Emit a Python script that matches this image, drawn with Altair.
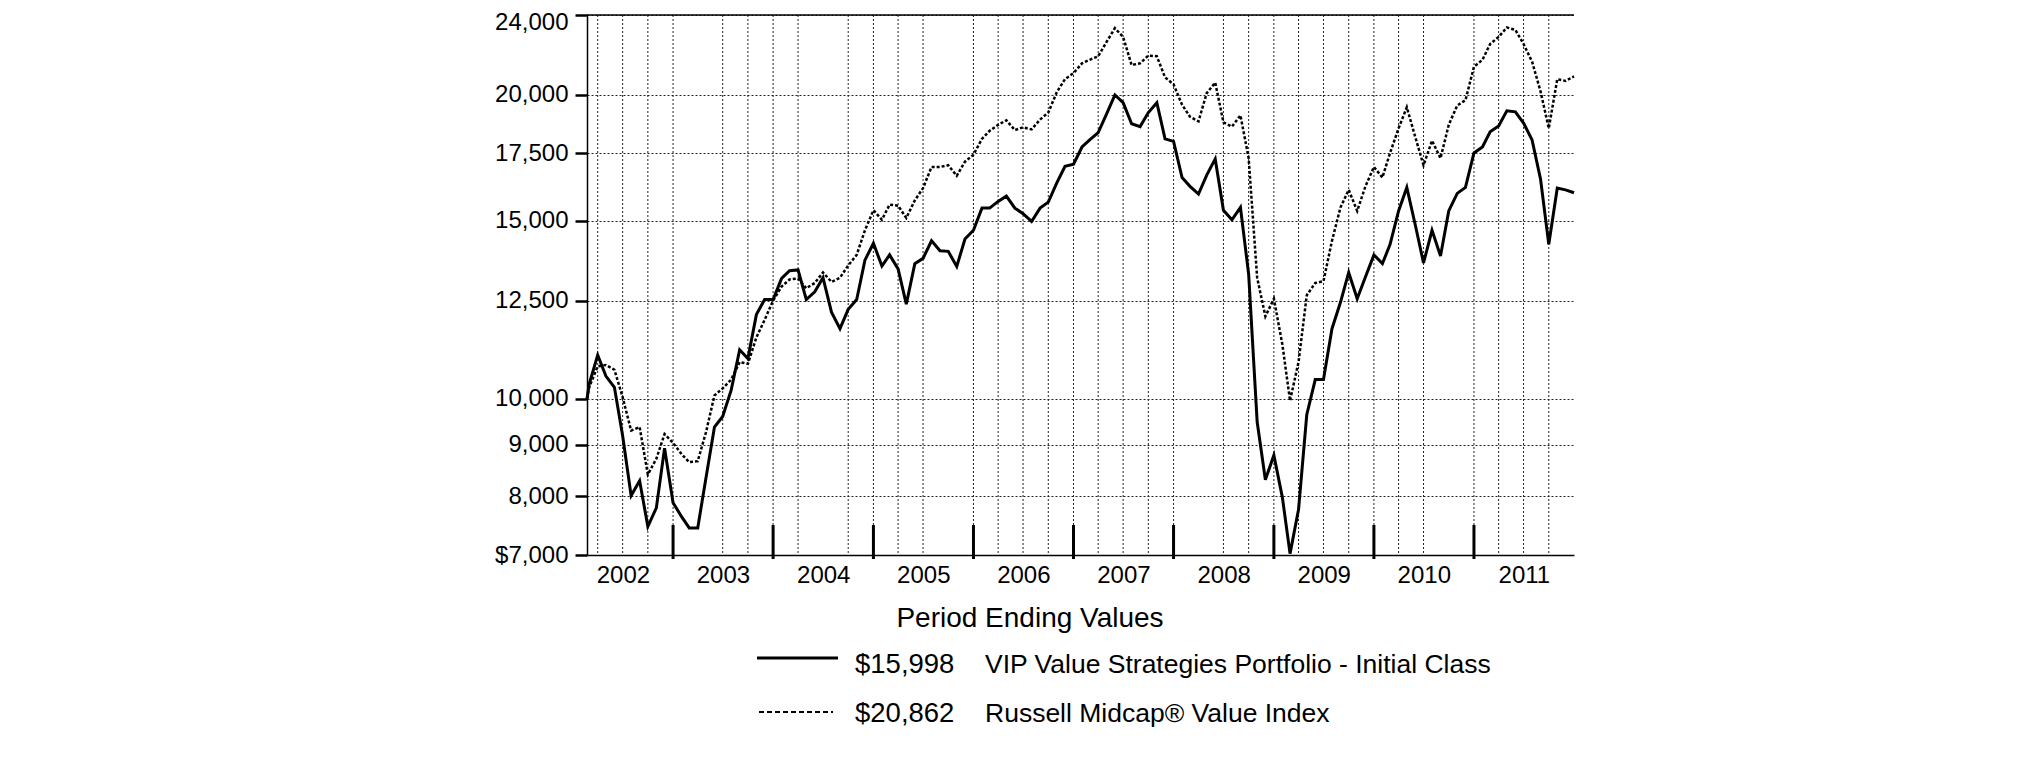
import altair as alt
import pandas as pd

FONT = "Liberation Sans"
W, H = 987, 540

# ---------------- data ----------------
start_date = "2002-02-20"
month_ends = pd.date_range("2002-02-28", "2011-12-31", freq="ME").strftime("%Y-%m-%d").tolist()
dates = [start_date] + month_ends  # 120 points

fund_values = [
    10000, 10339, 11047, 10529, 10262, 9187, 8016, 8291, 7470, 7794, 8933, 7888,
    7639, 7446, 7446, 8344, 9373, 9601, 10196, 11181, 10959, 12115, 12540, 12540,
    13158, 13393, 13414, 12540, 12763, 13179, 12184, 11732, 12262, 12540, 13718, 14256,
    13532, 13884, 13446, 12409, 13609, 13773, 14337, 14017, 13995, 13521, 14394, 14686,
    15447, 15447, 15684, 15875, 15447, 15250, 14983, 15447, 15659, 16365, 16994, 17075,
    17760, 18047, 18353, 19135, 19998, 19648, 18726, 18605, 19212, 19648, 18091, 17989,
    16563, 16234, 15950, 16657, 17282, 15372, 15043, 15471, 13285, 9486, 8310, 8791,
    7984, 7022, 7763, 9640, 10445, 10445, 11732, 12459, 13338, 12560, 13201, 13884,
    13609, 14222, 15347, 16195, 14864, 13630, 14686, 13851, 15347, 15975, 16195, 17520,
    17760, 18383, 18635, 19289, 19243, 18756, 18047, 16498, 14222, 16169, 16105, 15998,
]
index_values = [
    10000, 10262, 10768, 10800, 10682, 10034, 9298, 9373, 8411, 8720, 9224, 9041,
    8812, 8651, 8672, 9261, 10074, 10238, 10445, 10872, 10828, 11500, 11970, 12510,
    12916, 13125, 13158, 12865, 13021, 13338, 13053, 13179, 13554, 13884, 14686, 15372,
    15043, 15572, 15534, 15104, 15722, 16169, 16967, 16967, 17035, 16630, 17173, 17450,
    18091, 18428, 18681, 18876, 18457, 18577, 18486, 18906, 19212, 20126, 20733, 21017,
    21495, 21668, 21843, 22554, 23290, 22827, 21409, 21495, 21878, 21843, 20816, 20486,
    19555, 19028, 18831, 20078, 20568, 18786, 18605, 19089, 17310, 13179, 12067, 12560,
    11316, 9954, 10872, 12661, 13021, 13073, 14337, 15471, 16105, 15347, 16234, 16967,
    16563, 17520, 18531, 19445, 18163, 17035, 18019, 17310, 18681, 19523, 19759, 21323,
    21668, 22464, 22827, 23327, 23197, 22464, 21581, 20159, 18531, 20733, 20650, 20862,
]

y_ticks = [7000, 8000, 9000, 10000, 12500, 15000, 17500, 20000, 24000]
label_years = list(range(2002, 2012))
year_end_dates = [f"{y}-12-31" for y in range(2002, 2011)]
missing_grid = {"2003-03-31", "2004-06-30", "2005-09-30", "2008-03-31", "2010-09-30"}
grid_dates = [d for d in pd.date_range("2002-03-31", "2011-09-30", freq="QE").strftime("%Y-%m-%d")
              if d not in missing_grid]

fund_name = "VIP Value Strategies Portfolio -  Initial Class"
index_name = "Russell Midcap\u00ae Value Index"
fund_end = "$15,998"
index_end = "$20,862"
legend_title = "Period Ending Values"

df = pd.DataFrame({
    "date": dates * 2,
    "value": fund_values + index_values,
    "series": ["fund"] * len(dates) + ["index"] * len(dates),
})
one = pd.DataFrame({"k": [0]})

# ---------------- scales / axes ----------------
x_scale = alt.Scale(
    type="utc", nice=False,
    domain=[alt.DateTime(year=2002, month=2, date=20, utc=True),
            alt.DateTime(year=2011, month=12, date=31, utc=True)],
)
y_scale = alt.Scale(type="log", domain=[7000, 24000], nice=False)

x_axis = alt.Axis(
    values=[alt.DateTime(year=y, month=7, date=1, utc=True) for y in label_years],
    labelExpr="utcFormat(datum.value, '%Y')",
    tickSize=0, grid=False, domainColor="black", domainWidth=1.5,
    labelFont=FONT, labelFontSize=24, labelColor="black", labelPadding=8,
    labelOverlap=False, labelFlush=False, labelBound=False, title=None,
)
y_axis = alt.Axis(
    values=y_ticks,
    labelExpr="datum.value == 7000 ? '$7,000' : format(datum.value, ',')",
    labelOffset={"condition": {"test": "datum.value == 24000", "value": 7}, "value": 0},
    tickSize=12, tickWidth=2.5, tickColor="black",
    domainColor="black", domainWidth=1.5,
    grid=True, gridDash=[2, 2], gridColor="#222222", gridWidth=1,
    labelFont=FONT, labelFontSize=24, labelColor="black", labelPadding=7,
    labelFlush=False, labelOverlap=False, title=None,
)

X = alt.X("date:T", scale=x_scale, axis=x_axis)

base = alt.Chart(df).encode(
    x=X,
    y=alt.Y("value:Q", scale=y_scale, axis=y_axis),
)

index_line = base.transform_filter(alt.datum.series == "index").mark_line(
    color="black", strokeWidth=2.5, strokeDash=[3, 2])
fund_line = base.transform_filter(alt.datum.series == "fund").mark_line(
    color="black", strokeWidth=3)

vgrid = alt.Chart(pd.DataFrame({"date": grid_dates})).mark_rule(
    color="#222222", strokeWidth=1, strokeDash=[2, 2]
).encode(x=X, y=alt.value(0), y2=alt.value(H))

year_ticks = alt.Chart(pd.DataFrame({"date": year_end_dates})).mark_rule(
    color="black", strokeWidth=3
).encode(x=X, y=alt.value(H - 30), y2=alt.value(H + 4))

top_border = alt.Chart(one).mark_rule(color="black", strokeWidth=1.5).encode(
    x=alt.value(0), x2=alt.value(W), y=alt.value(0))

# ---------------- legend ----------------
def txt(s, x, y, size, align="left"):
    return alt.Chart(one).mark_text(
        text=s, font=FONT, fontSize=size, color="black", align=align, baseline="alphabetic"
    ).encode(x=alt.value(x), y=alt.value(y))

leg_title = txt(legend_title, 443, 612, 28, align="center")
leg_solid = alt.Chart(one).mark_rule(color="black", strokeWidth=3).encode(
    x=alt.value(170), x2=alt.value(251), y=alt.value(643))
leg_dash = alt.Chart(one).mark_rule(color="black", strokeWidth=2, strokeDash=[5, 3]).encode(
    x=alt.value(172), x2=alt.value(246), y=alt.value(697))
leg_v1 = txt(fund_end, 268, 658, 27.5)
leg_n1 = txt(fund_name, 398, 658, 26.5)
leg_v2 = txt(index_end, 268, 707, 27.5)
leg_n2 = txt(index_name, 398, 707, 26.5)

chart = alt.layer(
    vgrid, index_line, fund_line, year_ticks, top_border,
    leg_title, leg_solid, leg_dash, leg_v1, leg_n1, leg_v2, leg_n2,
).properties(
    width=W, height=H,
    padding={"left": 579, "top": 7, "right": 10, "bottom": 200},
    autosize=alt.AutoSizeParams(type="none"),
    background="white",
).configure_view(stroke=None)

chart.save("out.html", embed_options={"renderer": "svg", "actions": False})
